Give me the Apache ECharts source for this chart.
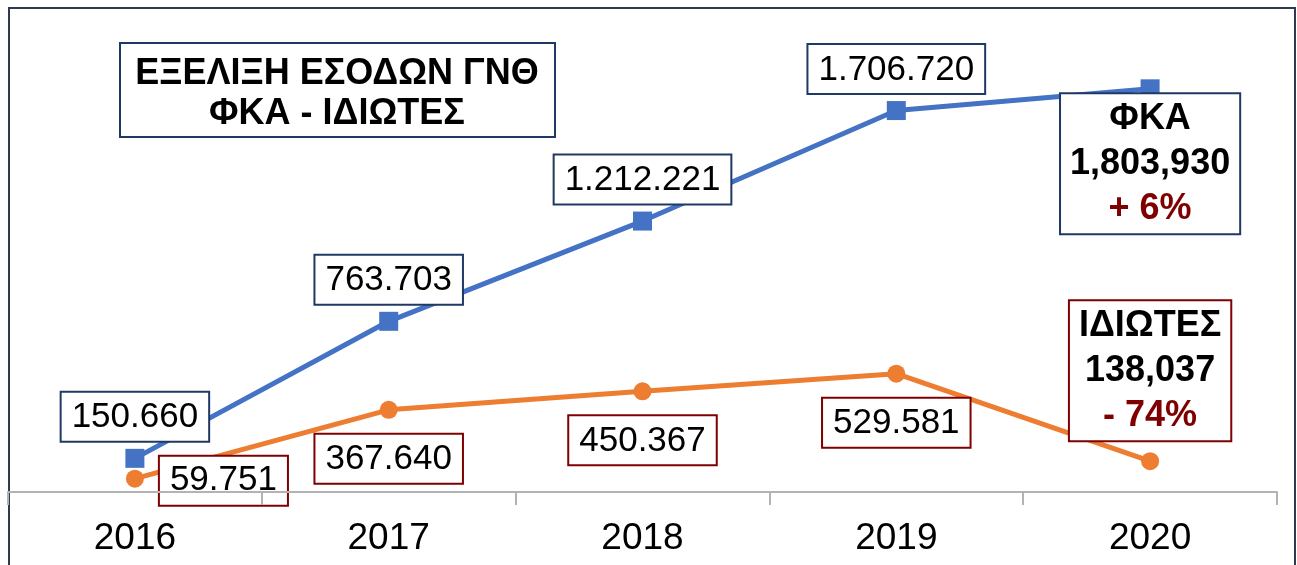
<!DOCTYPE html>
<html><head><meta charset="utf-8">
<script src="https://cdn.jsdelivr.net/npm/echarts@6/dist/echarts.min.js"></script>
<style>html,body{margin:0;padding:0;background:#fff}#c{width:1297px;height:565px}</style>
</head><body><div id="c"></div>
<script>
const categories = ['2016', '2017', '2018', '2019', '2020'];
const fkaValues = [150660, 763703, 1212221, 1706720, 1803930];
const idiotesValues = [59751, 367640, 450367, 529581, 138037];
const titleLines = ['ΕΞΕΛΙΞΗ ΕΣΟΔΩΝ ΓΝΘ', 'ΦΚΑ - ΙΔΙΩΤΕΣ'];
const seriesNames = ['ΦΚΑ', 'ΙΔΙΩΤΕΣ'];
const changeLabels = ['+ 6%', '- 74%'];

const FONT = '"Liberation Sans", Arial, sans-serif';
const BLUE = '#4472c4', ORANGE = '#ed7d31';
const NAVY = '#1f3864', DARKRED = '#7f0000';

function dots(n) { return String(n).replace(/\B(?=(\d{3})+(?!\d))/g, '.'); }
function commas(n) { return String(n).replace(/\B(?=(\d{3})+(?!\d))/g, ','); }

const baseLabel = (border) => ({
  show: true, fontFamily: FONT, fontSize: 35, color: '#000',
  backgroundColor: '#fff', borderColor: border, borderWidth: 2,
  padding: [7, 10, 5, 10], lineHeight: 36
});

const summaryRich = {
  n: { fontFamily: FONT, fontSize: 36, fontWeight: 'bold', color: '#000', lineHeight: 45 },
  p: { fontFamily: FONT, fontSize: 36, fontWeight: 'bold', color: DARKRED, lineHeight: 45 }
};

function buildData(values, si) {
  const last = values.length - 1;
  return values.map((v, i) => {
    const border = si === 0 ? NAVY : DARKRED;
    let label;
    if (i === last) {
      label = Object.assign(baseLabel(border), {
        position: si === 0 ? 'bottom' : 'top',
        distance: si === 0 ? -4 : 12,
        padding: [2, 9, 2, 9],
        formatter: '{n|' + seriesNames[si] + '}\n{n|' + commas(v) + '}\n{p|' + changeLabels[si] + '}',
        rich: summaryRich
      });
    } else if (si === 0) {
      label = Object.assign(baseLabel(border), { position: 'top', distance: 8, formatter: dots(v) });
    } else if (i === 0) {
      label = Object.assign(baseLabel(border), { position: 'right', distance: 16, offset: [0, 2],
        formatter: dots(v) });
    } else {
      label = Object.assign(baseLabel(border), { position: 'bottom', distance: 16, formatter: dots(v) });
    }
    return { value: v, label };
  });
}

const chart = echarts.init(document.getElementById('c'), null, { renderer: 'canvas' });
chart.setOption({
  animation: false,
  backgroundColor: '#fff',
  grid: { left: 8, right: 20, top: 45, bottom: 73 },
  xAxis: {
    type: 'category', data: categories, boundaryGap: true, z: 5,
    axisLine: { lineStyle: { color: '#b3b3b3', width: 2 } },
    axisTick: { show: true, length: 13, lineStyle: { color: '#b3b3b3', width: 2 } },
    axisLabel: { fontFamily: FONT, fontSize: 37, color: '#000', margin: 28 }
  },
  yAxis: { type: 'value', min: 0, max: 2000000, show: false, splitLine: { show: false } },
  graphic: [
    { type: 'rect', z: 0, silent: true,
      shape: { x: 9, y: 8, width: 1286, height: 620 },
      style: { fill: 'none', stroke: '#2f3b4c', lineWidth: 2 } },
    { type: 'rect', z: 100, silent: true,
      shape: { x: 120, y: 43, width: 435, height: 94 },
      style: { fill: '#fff', stroke: NAVY, lineWidth: 2 } },
    { type: 'text', z: 101, silent: true,
      x: 337, y: 94,
      style: { text: titleLines.join('\n'), align: 'center', verticalAlign: 'middle',
        fontFamily: FONT, fontSize: 36, fontWeight: 'bold', fill: '#000', lineHeight: 40 } }
  ],
  series: [
    { name: seriesNames[0], type: 'line', data: buildData(fkaValues, 0),
      symbol: 'rect', symbolSize: 19, itemStyle: { color: BLUE },
      lineStyle: { color: BLUE, width: 5 }, z: 3 },
    { name: seriesNames[1], type: 'line', data: buildData(idiotesValues, 1),
      symbol: 'circle', symbolSize: 18, itemStyle: { color: ORANGE },
      lineStyle: { color: ORANGE, width: 5 }, z: 2 }
  ]
});
</script></body></html>
